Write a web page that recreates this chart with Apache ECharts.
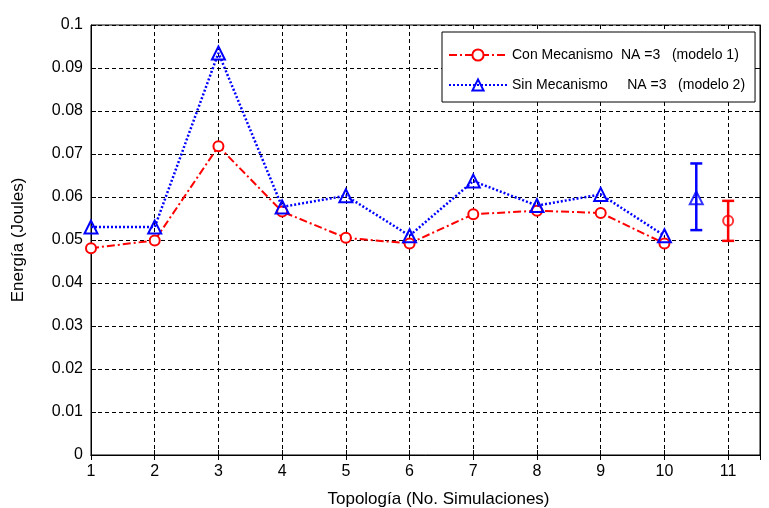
<!DOCTYPE html>
<html>
<head>
<meta charset="utf-8">
<script src="https://cdn.jsdelivr.net/npm/echarts@6/dist/echarts.min.js"></script>
<style>
  html, body { margin: 0; padding: 0; background: #fff; }
  #chart { width: 769px; height: 508px; }
</style>
</head>
<body>
<div id="chart"></div>
<script>
  // topologias 1..10, energia en Joules
  const topologias = [1, 2, 3, 4, 5, 6, 7, 8, 9, 10]
  const conMecanismo = [0.0481, 0.0499, 0.0718, 0.0566, 0.0505, 0.0492, 0.0560, 0.0568, 0.0563, 0.0492]
  const sinMecanismo = [0.0530, 0.0530, 0.0935, 0.0577, 0.0603, 0.0510, 0.0637, 0.0580, 0.0606, 0.0510]

  // promedio + barras de error: [con, sin]
  const errorX = [11, 10.5]
  const errorMedia = [0.0545, 0.0598]
  const errorMin = [0.0498, 0.0523]
  const errorMax = [0.0591, 0.0678]

  const xTicks = ['1', '2', '3', '4', '5', '6', '7', '8', '9', '10', '11']
  const yTicks = ['0', '0.01', '0.02', '0.03', '0.04', '0.05', '0.06', '0.07', '0.08', '0.09', '0.1']

  const fuente = 'Liberation Sans, Arial, sans-serif'
  const rojo = '#ff0000'
  const azul = '#0000ff'

  function errorBar (idx, color) {
    return {
      type: 'custom',
      silent: true,
      z: 5,
      data: [[errorX[idx], errorMin[idx], errorMax[idx]]],
      renderItem (params, api) {
        const low = api.coord([api.value(0), api.value(1)])
        const high = api.coord([api.value(0), api.value(2)])
        const w = 6
        const style = { stroke: color, lineWidth: 2.5 }
        return {
          type: 'group',
          children: [
            { type: 'line', shape: { x1: low[0], y1: low[1], x2: high[0], y2: high[1] }, style },
            { type: 'line', shape: { x1: low[0] - w, y1: low[1], x2: low[0] + w, y2: low[1] }, style },
            { type: 'line', shape: { x1: high[0] - w, y1: high[1], x2: high[0] + w, y2: high[1] }, style }
          ]
        }
      }
    }
  }

  const chart = echarts.init(document.getElementById('chart'))
  const ejeComun = {
    axisLine: { show: true, lineStyle: { color: '#000', width: 1 } },
    axisTick: { show: true, inside: true, length: 5, lineStyle: { color: '#000' } }
  }

  chart.setOption({
    animation: false,
    backgroundColor: '#fff',
    grid: {
      left: 91, right: 9, top: 25, bottom: 53,
      outerBoundsMode: 'none',
      show: true, borderColor: '#000', borderWidth: 1
    },
    legend: {
      orient: 'vertical',
      left: 442,
      top: 32,
      padding: [16, 10, 10, 6],
      itemGap: 16,
      itemWidth: 58,
      itemHeight: 14,
      borderColor: '#000',
      borderWidth: 1,
      backgroundColor: '#fff',
      textStyle: { fontFamily: fuente, fontSize: 14, color: '#000' },
      data: ['Con Mecanismo  NA =3   (modelo 1)', 'Sin Mecanismo     NA =3   (modelo 2)']
    },
    xAxis: [
      Object.assign({
        type: 'value',
        min: 1,
        max: 11.5,
        interval: 1,
        name: 'Topología (No. Simulaciones)',
        nameLocation: 'middle',
        nameGap: 36,
        nameTextStyle: { fontFamily: fuente, fontSize: 17, color: '#000', padding: [0, 0, 0, 26] },
        axisLabel: {
          margin: 9,
          fontFamily: fuente,
          fontSize: 16,
          color: '#000',
          formatter: v => (Number.isInteger(v) && v <= 11 ? xTicks[v - 1] : '')
        },
        splitLine: { show: true, lineStyle: { color: '#000', type: [4, 3], width: 1 } }
      }, ejeComun),
      Object.assign({
        type: 'value', position: 'top', min: 1, max: 11.5, interval: 1,
        axisLabel: { show: false }, splitLine: { show: false }
      }, ejeComun)
    ],
    yAxis: [
      Object.assign({
        type: 'value',
        min: 0,
        max: 0.1,
        interval: 0.01,
        name: 'Energía (Joules)',
        nameLocation: 'middle',
        nameRotate: 90,
        nameGap: 64,
        nameTextStyle: { fontFamily: fuente, fontSize: 17, color: '#000' },
        axisLabel: {
          margin: 8,
          fontFamily: fuente,
          fontSize: 16,
          color: '#000',
          formatter: v => yTicks[Math.round(v * 100)]
        },
        splitLine: { show: true, lineStyle: { color: '#000', type: [4, 3], width: 1 } }
      }, ejeComun),
      Object.assign({
        type: 'value', position: 'right', min: 0, max: 0.1, interval: 0.01,
        axisLabel: { show: false }, splitLine: { show: false }
      }, ejeComun)
    ],
    series: [
      {
        name: 'Con Mecanismo  NA =3   (modelo 1)',
        type: 'line',
        data: topologias.map((t, i) => [t, conMecanismo[i]]),
        symbol: 'circle',
        symbolSize: 10,
        showAllSymbol: true,
        lineStyle: { color: rojo, width: 2, type: [8, 3, 2, 3] },
        itemStyle: { color: '#fff', borderColor: rojo, borderWidth: 2 },
        z: 3
      },
      {
        name: 'Sin Mecanismo     NA =3   (modelo 2)',
        type: 'line',
        data: topologias.map((t, i) => [t, sinMecanismo[i]]),
        symbol: 'triangle',
        symbolSize: 13,
        showAllSymbol: true,
        lineStyle: { color: azul, width: 2.5, type: [2, 2] },
        itemStyle: { color: 'rgba(255,255,255,0)', borderColor: azul, borderWidth: 2 },
        z: 4
      },
      errorBar(0, rojo),
      errorBar(1, azul),
      {
        type: 'scatter',
        symbol: 'circle',
        symbolSize: 10,
        data: [[errorX[0], errorMedia[0]]],
        itemStyle: { color: 'rgba(255,255,255,0)', borderColor: rojo, borderWidth: 2 },
        z: 6
      },
      {
        type: 'scatter',
        symbol: 'triangle',
        symbolSize: 13,
        data: [[errorX[1], errorMedia[1]]],
        itemStyle: { color: 'rgba(255,255,255,0)', borderColor: azul, borderWidth: 2 },
        z: 6
      }
    ]
  })
</script>
</body>
</html>
